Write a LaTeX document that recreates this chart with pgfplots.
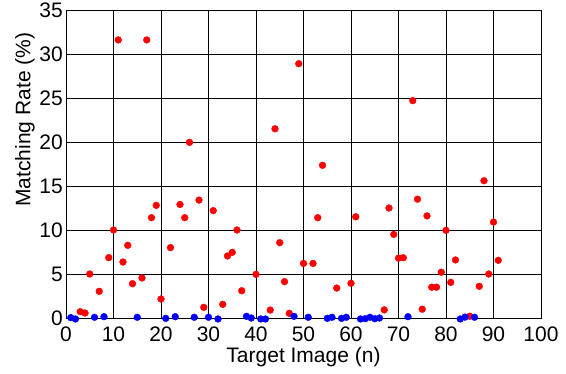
\documentclass[border=0pt]{standalone}
\usepackage{pgfplots}
\pgfplotsset{compat=1.18}
\usepackage{fontspec}
\setmainfont{Liberation Sans}
\begin{document}
\begin{tikzpicture}
\begin{axis}[
  scale only axis,
  width=475pt, height=308pt,
  xmin=0, xmax=100, ymin=0, ymax=35,
  xtick={0,10,...,100}, ytick={0,5,...,35},
  grid=major,
  major grid style={black, line width=0.8pt},
  axis line style={black, line width=0.9pt},
  major tick length=0pt,
  tick label style={font=\fontsize{21}{24}\selectfont, inner sep=0pt},
  /pgf/number format/assume math mode=true,
  label style={font=\fontsize{21}{24}\selectfont},
  xlabel={Target Image (n)},
  ylabel={Matching Rate (\%)},
  xlabel style={at={(axis description cs:0.5,0)}, anchor=center, yshift=-39pt},
  ylabel style={at={(axis description cs:-0.0863,0.644)}, anchor=center},
  xticklabel style={anchor=center, yshift=-16pt},
  yticklabel style={anchor=east, xshift=-3pt},
  clip=false,
]
\addplot[only marks, mark=*, mark size=3.4pt, color=red, mark options={draw=red, fill=red}] coordinates {
(3,0.72) (4,0.57) (5,5.0) (7,3.03) (9,6.86) (10,10.0) (11,31.6) (12,6.36) (13,8.26) (14,3.9)
(16,4.55) (17,31.6) (18,11.4) (19,12.8) (20,2.16) (22,8.0) (24,12.9) (25,11.4) (26,19.96)
(28,13.4) (29,1.21) (31,12.2) (33,1.55) (34,7.05) (35,7.46) (36,10.0) (37,3.1) (40,4.96)
(43,0.9) (44,21.5) (45,8.56) (46,4.13) (47,0.53) (49,28.9) (50,6.2) (52,6.2) (53,11.4)
(54,17.35) (57,3.4) (60,3.94) (61,11.5) (67,0.92) (68,12.5) (69,9.5) (70,6.8) (71,6.85)
(73,24.7) (74,13.5) (75,1.0) (76,11.6) (77,3.5) (78,3.5) (79,5.2) (80,9.96) (81,4.05)
(82,6.6) (85,0.2) (87,3.6) (88,15.6) (89,5.0) (90,10.9) (91,6.55)
};
\addplot[only marks, mark=*, mark size=3.4pt, color=blue, mark options={draw=blue, fill=blue}] coordinates {
(1,0.04) (2,-0.11) (6,0.08) (8,0.15) (15,0.08) (21,-0.04) (23,0.15) (27,0.08) (30,0.08)
(32,-0.11) (38,0.19) (39,0.0) (41,-0.11) (42,-0.11) (48,0.19) (51,0.08) (55,-0.04)
(56,0.08) (58,-0.04) (59,0.08) (62,-0.11) (63,-0.08) (64,0.08) (65,-0.08) (66,0.0)
(72,0.15) (83,-0.11) (84,0.1) (86,0.08)
};
\end{axis}
\path (current axis.south west) ++(-66pt,-56pt) (current axis.north east) ++(25pt,10pt);
\end{tikzpicture}
\end{document}
